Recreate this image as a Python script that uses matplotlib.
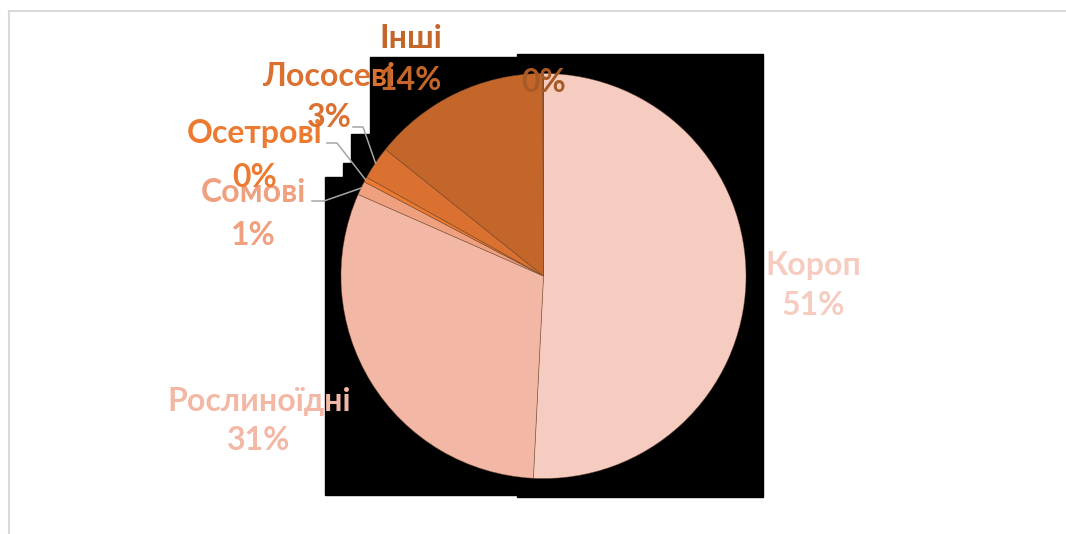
import numpy as np
import matplotlib.pyplot as plt
from matplotlib.patches import Polygon
from matplotlib.lines import Line2D

# slice data (clockwise from 12 o'clock)
names = ['Короп', 'Рослиноїдні', 'Сомові', 'Осетрові', 'Лососеві', 'Інші', '']
shares = [50.8, 30.8, 1.1, 0.4, 2.65, 14.2, 0.05]
colors = ['#F7CCC0', '#F3B8A5', '#EFA07F', '#EC7A30', '#DA7130', '#C4662A', '#A85A26']

# label layout in pixels (x centre, baseline of name, baseline of percent)
lab_x = [813, 259, 253, 255, 329, 411, 544]
name_y = [275, 411, 202, 143, 86, 48, 48]
pct_y = [315, 450, 245, 187, 127, 90, 92]
# leader lines (label side), index -> two points
leaders = {2: [(312, 201), (324, 201)],
           3: [(327, 143), (337, 143)],
           4: [(353, 127), (363, 127)]}

W, H = 1066, 534
fig = plt.figure(figsize=(W / 100, H / 100), dpi=100)
ax = fig.add_axes([0, 0, 1, 1])

def py(y):
    return H - y

# black backdrop behind the pie (as in the source render)
bg = [(370, 57), (517, 57), (517, 54), (763, 54), (763, 497), (517, 497),
      (517, 495), (325, 495), (325, 177), (343, 177), (343, 163), (351, 163),
      (351, 134), (370, 134)]
ax.add_patch(Polygon([(x, py(y)) for x, y in bg], closed=True, color='black', zorder=0))

cx, cy, r = 543.5, py(276), 202.5
wedges, _ = ax.pie(shares, colors=colors, startangle=90, counterclock=False,
                   center=(cx, cy), radius=r,
                   wedgeprops=dict(edgecolor=(0.45, 0.3, 0.2, 0.6), linewidth=0.5))
for w in wedges:
    w.set_zorder(2)

font = dict(family='Lato', fontweight='bold', fontsize=23)
for i, n in enumerate(names):
    if n:
        ax.text(lab_x[i], py(name_y[i]), n, ha='center', va='baseline',
                color=colors[i], zorder=5, **font)
    ax.text(lab_x[i], py(pct_y[i]), f'{round(shares[i])}%', ha='center',
            va='baseline', color=colors[i], zorder=5, **font)

for i, pts in leaders.items():
    w = wedges[i]
    mid = np.deg2rad((w.theta1 + w.theta2) / 2)
    ex, ey = cx + r * np.cos(mid), cy + r * np.sin(mid)
    xs = [p[0] for p in pts] + [ex]
    ys = [py(p[1]) for p in pts] + [ey]
    ax.plot(xs, ys, color='#A6A6A6', lw=1.1, zorder=4)

# chart area border
ax.add_line(Line2D([8.5, W], [py(10.5), py(10.5)], color='#D9D9D9', lw=1.5))
ax.add_line(Line2D([8.5, 8.5], [py(10.5), 0], color='#D9D9D9', lw=1.5))

ax.set_xlim(0, W)
ax.set_ylim(0, H)
ax.set_aspect('equal')
ax.axis('off')
fig.savefig('out.png', dpi=100, facecolor='white')
